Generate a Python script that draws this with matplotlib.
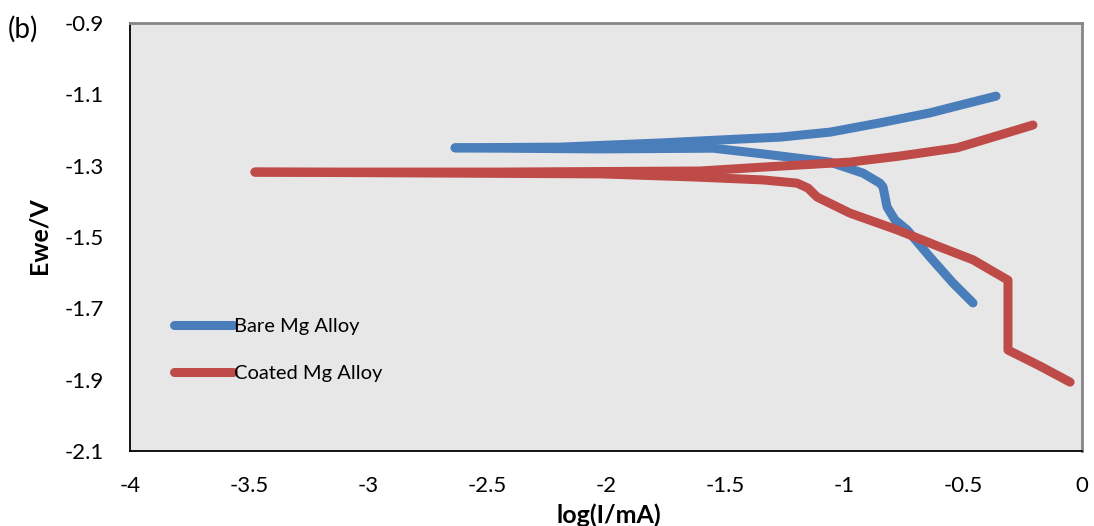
import matplotlib
matplotlib.use('Agg')
import matplotlib.pyplot as plt

plt.rcParams['font.family'] = ['Lato', 'DejaVu Sans']

# Bare Mg alloy - anodic (upper) and cathodic (lower) branches
bare_up_x = [-2.634, -2.193, -1.761, -1.521, -1.269, -1.059, -0.849, -0.639, -0.492, -0.361]
bare_up_y = [-1.250, -1.248, -1.236, -1.228, -1.220, -1.206, -1.180, -1.152, -1.127, -1.105]
bare_lo_x = [-2.634, -2.025, -1.550, -1.340, -1.059, -0.920, -0.849, -0.836, -0.819,
             -0.786, -0.735, -0.639, -0.542, -0.458]
bare_lo_y = [-1.250, -1.253, -1.251, -1.267, -1.290, -1.321, -1.349, -1.360, -1.416,
             -1.452, -1.480, -1.556, -1.629, -1.685]

# Coated Mg alloy
coat_up_x = [-3.475, -2.445, -1.605, -1.340, -0.975, -0.765, -0.525, -0.345, -0.206]
coat_up_y = [-1.318, -1.318, -1.315, -1.304, -1.290, -1.273, -1.250, -1.214, -1.186]
coat_lo_x = [-3.475, -2.025, -1.618, -1.340, -1.197, -1.151, -1.113, -0.975, -0.777,
             -0.597, -0.458, -0.311, -0.311, -0.176, -0.050]
coat_lo_y = [-1.318, -1.323, -1.332, -1.340, -1.349, -1.363, -1.388, -1.433, -1.480,
             -1.528, -1.564, -1.621, -1.817, -1.862, -1.907]

x_ticks = [-4, -3.5, -3, -2.5, -2, -1.5, -1, -0.5, 0]
x_labels = ['-4', '-3.5', '-3', '-2.5', '-2', '-1.5', '-1', '-0.5', '0']
y_ticks = [-0.9, -1.1, -1.3, -1.5, -1.7, -1.9, -2.1]
y_labels = ['-0.9', '-1.1', '-1.3', '-1.5', '-1.7', '-1.9', '-2.1']

blue = '#4a7ebb'
red = '#be4b48'

fig = plt.figure(figsize=(10.94, 5.26), dpi=100)
ax = fig.add_axes([130/1094, 1 - 451/526, 952/1094, 428/526])
ax.set_facecolor('#e7e7e7')

style = dict(lw=6.5, solid_capstyle='round', solid_joinstyle='round')
ax.plot(bare_up_x, bare_up_y, color=blue, label='Bare Mg Alloy', **style)
ax.plot(bare_lo_x, bare_lo_y, color=blue, **style)
ax.plot(coat_up_x, coat_up_y, color=red, label='Coated Mg Alloy', **style)
ax.plot(coat_lo_x, coat_lo_y, color=red, **style)

ax.set_xlim(-4, 0)
ax.set_ylim(-2.1, -0.9)
ax.set_xticks(x_ticks)
ax.set_xticklabels(x_labels)
ax.set_yticks(y_ticks)
ax.set_yticklabels(y_labels)
ax.tick_params(length=0, labelsize=16)
ax.tick_params(axis='y', pad=19)
ax.tick_params(axis='x', pad=18)

for s in ['left', 'bottom']:
    ax.spines[s].set_color('black')
    ax.spines[s].set_linewidth(1.3)
for s in ['top', 'right']:
    ax.spines[s].set_color('#868686')
    ax.spines[s].set_linewidth(2)

fig.text(39/1094, 1 - 236/526, 'Ewe/V', fontsize=18, fontweight='bold',
         rotation=90, ha='center', va='center')
fig.text(609/1094, 1 - 503/526, 'log(I/mA)', fontsize=18, fontweight='bold',
         ha='center', va='top')

fig.text(8/1094, 1 - 29/526, '(b)', fontsize=20, va='center', ha='left')

ax.legend(loc='upper left', bbox_to_anchor=(36/952, 1 - 287/428), frameon=False,
          fontsize=14.5, handlelength=2.95, handletextpad=0.05, labelspacing=1.5,
          borderaxespad=0)

fig.savefig('out.png', dpi=100)
